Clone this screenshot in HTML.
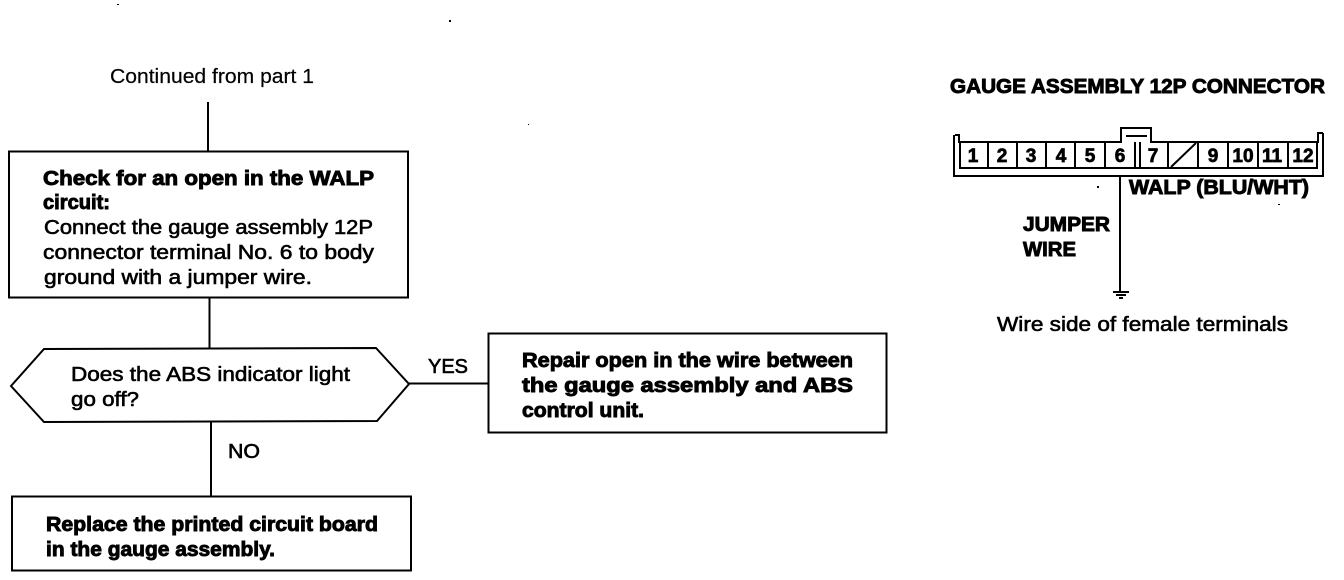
<!DOCTYPE html>
<html><head><meta charset="utf-8"><style>
html,body{margin:0;padding:0;background:#fff;width:1344px;height:580px;overflow:hidden}
svg{display:block}
text{font-family:"Liberation Sans",sans-serif;font-size:20px;fill:#000}
.r{stroke:#000;stroke-width:.2px}
.b{font-weight:bold;stroke:#000;stroke-width:.9px}
.m{stroke:#000;stroke-width:.6px}
.n{stroke:#000;stroke-width:.7px;font-size:19px;font-weight:bold}
line,rect,polygon,path{stroke:#000;fill:none;stroke-width:2}
.s{fill:#000;stroke:none}
</style></head><body>
<svg width="1344" height="580" viewBox="0 0 1344 580" xmlns="http://www.w3.org/2000/svg">
<text class="r" x="110" y="83" textLength="204" lengthAdjust="spacingAndGlyphs">Continued from part 1</text>
<line x1="208" y1="102" x2="208" y2="152"/>
<rect x="9" y="151.500" width="399" height="146"/>
<text class="b" x="43" y="185" textLength="331" lengthAdjust="spacingAndGlyphs">Check for an open in the WALP</text>
<text class="b" x="43" y="209" textLength="67" lengthAdjust="spacingAndGlyphs">circuit:</text>
<text class="m" x="44" y="234" textLength="329" lengthAdjust="spacingAndGlyphs">Connect the gauge assembly 12P</text>
<text class="m" x="43" y="259" textLength="331" lengthAdjust="spacingAndGlyphs">connector terminal No. 6 to body</text>
<text class="m" x="44" y="284" textLength="268" lengthAdjust="spacingAndGlyphs">ground with a jumper wire.</text>
<line x1="209.500" y1="298" x2="209.500" y2="349"/>
<polygon points="11,386 44,349 376,348 409,384 377,421 44,422"/>
<text class="m" x="71" y="381" textLength="279" lengthAdjust="spacingAndGlyphs">Does the ABS indicator light</text>
<text class="m" x="71" y="406" textLength="68" lengthAdjust="spacingAndGlyphs">go off?</text>
<line x1="409" y1="383.500" x2="488" y2="383.500"/>
<text class="m" x="428" y="373" textLength="40" lengthAdjust="spacingAndGlyphs">YES</text>
<rect x="488.500" y="333.500" width="398" height="99"/>
<text class="b" x="522" y="367" textLength="331" lengthAdjust="spacingAndGlyphs">Repair open in the wire between</text>
<text class="b" x="522" y="392" textLength="331" lengthAdjust="spacingAndGlyphs">the gauge assembly and ABS</text>
<text class="b" x="522" y="417" textLength="122" lengthAdjust="spacingAndGlyphs">control unit.</text>
<line x1="211" y1="422" x2="211" y2="496"/>
<text class="m" x="228" y="458" textLength="32" lengthAdjust="spacingAndGlyphs">NO</text>
<rect x="12" y="496.500" width="399" height="74"/>
<text class="b" x="46" y="531" textLength="332" lengthAdjust="spacingAndGlyphs">Replace the printed circuit board</text>
<text class="b" x="46" y="556" textLength="229" lengthAdjust="spacingAndGlyphs">in the gauge assembly.</text>

<text class="b" x="950" y="93" textLength="375" lengthAdjust="spacingAndGlyphs">GAUGE ASSEMBLY 12P CONNECTOR</text>
<path d="M954 135V176H1323V133"/>
<path d="M955 135H959V142H1121V128H1151V142H1318V133H1323"/>
<line x1="1126" y1="136" x2="1147" y2="136"/>
<line x1="959" y1="168" x2="1318" y2="168"/>
<line x1="960" y1="142" x2="960" y2="168"/>
<line x1="988" y1="142" x2="988" y2="168"/>
<line x1="1017" y1="142" x2="1017" y2="168"/>
<line x1="1046" y1="142" x2="1046" y2="168"/>
<line x1="1075" y1="142" x2="1075" y2="168"/>
<line x1="1105" y1="142" x2="1105" y2="168"/>
<line x1="1135" y1="142" x2="1135" y2="168"/>
<line x1="1140" y1="142" x2="1140" y2="168"/>
<line x1="1168" y1="142" x2="1168" y2="168"/>
<line x1="1198" y1="142" x2="1198" y2="168"/>
<line x1="1228" y1="142" x2="1228" y2="168"/>
<line x1="1258" y1="142" x2="1258" y2="168"/>
<line x1="1288" y1="142" x2="1288" y2="168"/>
<line x1="1317" y1="142" x2="1317" y2="168"/>
<line x1="1171" y1="167" x2="1196" y2="143"/>
<text class="n" x="973" y="162" text-anchor="middle">1</text>
<text class="n" x="1002" y="162" text-anchor="middle">2</text>
<text class="n" x="1031" y="162" text-anchor="middle">3</text>
<text class="n" x="1061" y="162" text-anchor="middle">4</text>
<text class="n" x="1090" y="162" text-anchor="middle">5</text>
<text class="n" x="1120" y="162" text-anchor="middle">6</text>
<text class="n" x="1153" y="162" text-anchor="middle">7</text>
<text class="n" x="1213" y="162" text-anchor="middle">9</text>
<text class="n" x="1243" y="162" text-anchor="middle">10</text>
<text class="n" x="1272" y="162" text-anchor="middle">11</text>
<text class="n" x="1303" y="162" text-anchor="middle">12</text>
<line x1="1120" y1="176" x2="1120" y2="291"/>
<text class="b" x="1129" y="194" textLength="180" lengthAdjust="spacingAndGlyphs">WALP (BLU/WHT)</text>
<text class="b" x="1023" y="231" textLength="87" lengthAdjust="spacingAndGlyphs">JUMPER</text>
<text class="b" x="1023" y="256" textLength="53" lengthAdjust="spacingAndGlyphs">WIRE</text>
<line x1="1113" y1="292" x2="1129" y2="292"/>
<line x1="1116" y1="295" x2="1126" y2="295"/>
<line x1="1119" y1="298" x2="1123" y2="298"/>
<text class="m" x="997" y="331" textLength="291" lengthAdjust="spacingAndGlyphs">Wire side of female terminals</text>
<rect class="s" x="117" y="4" width="2" height="1"/>
<rect class="s" x="449" y="20" width="2" height="2"/>
<rect class="s" x="528" y="124" width="1" height="1"/>
<rect class="s" x="1097" y="186" width="2" height="2"/>
<rect class="s" x="1278" y="204" width="2" height="1"/>
</svg>
</body></html>
